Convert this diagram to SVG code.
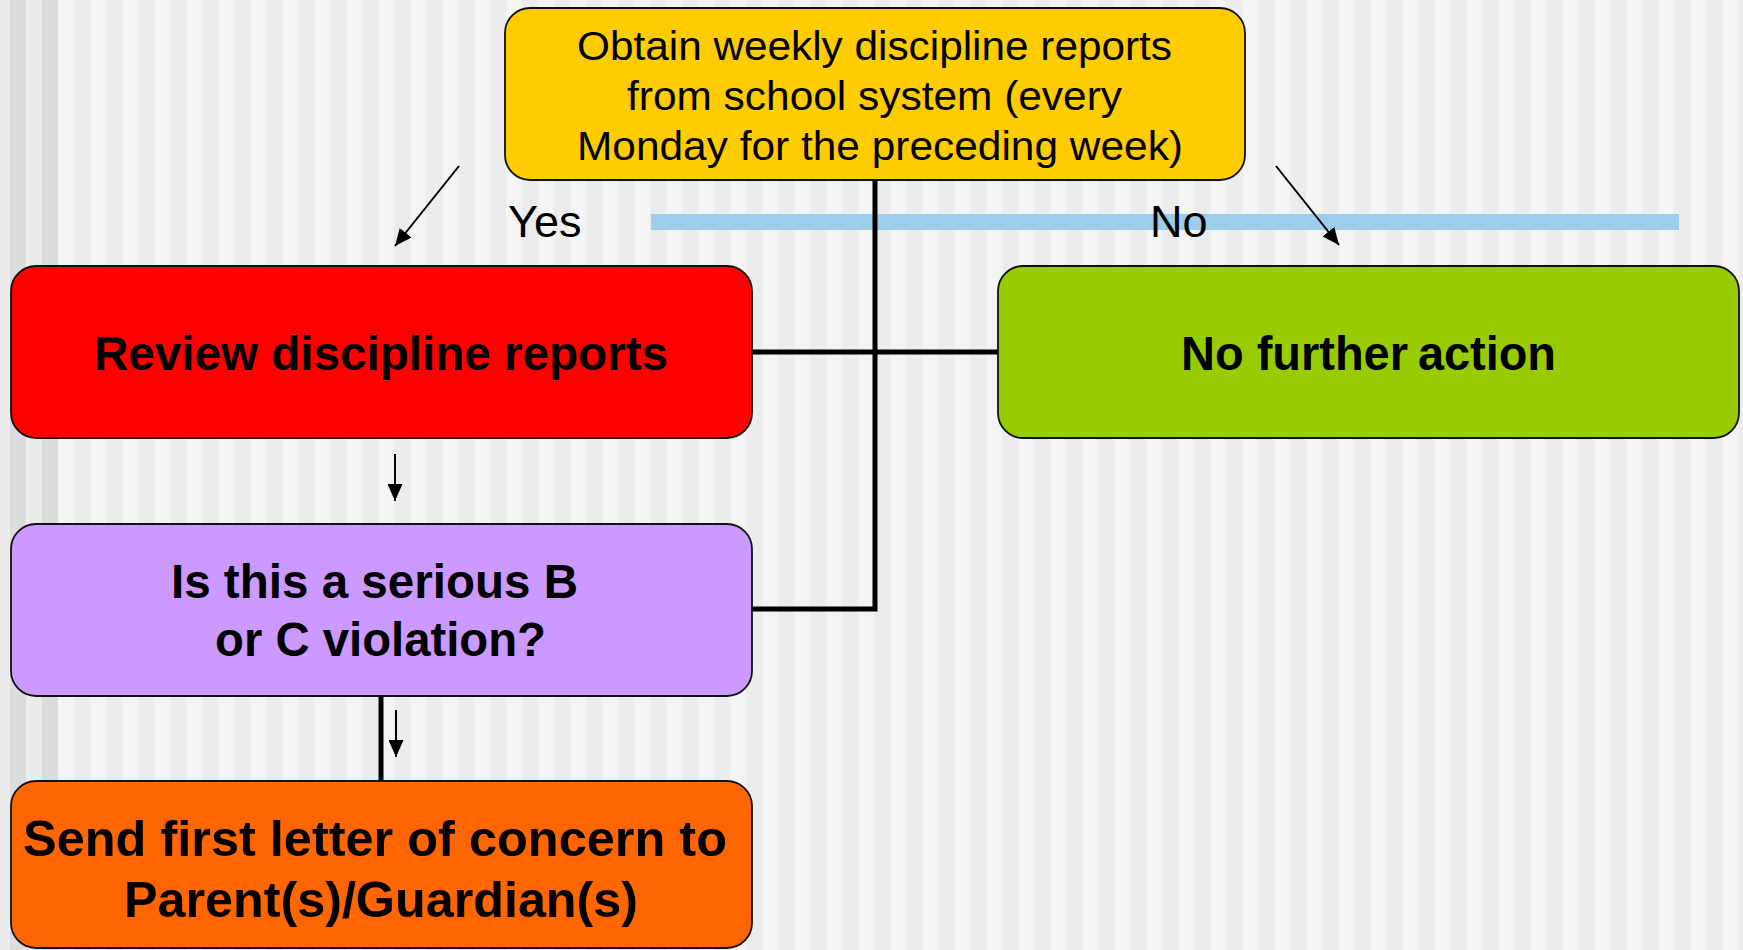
<svg xmlns="http://www.w3.org/2000/svg" width="1743" height="950" viewBox="0 0 1743 950">
<style>
.box{stroke:#111;stroke-width:1.8}
.reg{font-family:"Liberation Sans",Arial,sans-serif;font-size:41px;fill:#000}
.lbl{font-family:"Liberation Sans",Arial,sans-serif;font-size:45px;fill:#000}
.bold{font-family:"Liberation Sans",Arial,sans-serif;font-size:48px;font-weight:bold;fill:#000}
.thick{fill:none;stroke:#000;stroke-width:5}
.arrow{fill:none;stroke:#000;stroke-width:2;marker-end:url(#ah)}
</style>
<defs>
<pattern id="stripes" x="26" y="0" width="32" height="950" patternUnits="userSpaceOnUse">
<rect x="0" y="0" width="16" height="950" fill="#f4f4f4"/>
<rect x="16" y="0" width="16" height="950" fill="#ececec"/>
</pattern>
<marker id="ah" viewBox="0 0 17 15" refX="17" refY="7.5" markerWidth="17" markerHeight="15" markerUnits="userSpaceOnUse" orient="auto">
<path d="M0,0 L17,7.5 L0,15 z" fill="#000"/>
</marker>
</defs>
<g id="background">
<rect x="0" y="0" width="1743" height="950" fill="url(#stripes)"/>
<rect x="0" y="0" width="10" height="950" fill="#ebebeb"/>
<rect x="10" y="0" width="16" height="950" fill="#dcdcdc"/>
<rect x="26" y="0" width="16" height="950" fill="#ebebeb"/>
<rect x="42" y="0" width="16" height="950" fill="#dcdcdc"/>
<rect x="651" y="214" width="1028" height="16" fill="#9ccdea"/>
</g>
<g id="connectors">
<path class="thick" d="M875,180 V609 H752"/>
<path class="thick" d="M752,352 H998"/>
<path class="thick" d="M381,696 V781"/>
<line class="arrow" x1="459" y1="166" x2="395" y2="246"/>
<line class="arrow" x1="1276" y1="166" x2="1339" y2="245"/>
<line class="arrow" x1="395" y1="454" x2="395" y2="501"/>
<line class="arrow" x1="396" y1="710" x2="396" y2="757"/>
</g>
<g id="labels">
<text class="lbl" x="508" y="237">Yes</text>
<text class="lbl" x="1150" y="237">No</text>
</g>
<g id="node-obtain">
<rect class="box" x="505" y="8" width="740" height="172" rx="25" fill="#ffcc00"/>
<text class="reg" x="577" y="60" textLength="595" lengthAdjust="spacingAndGlyphs">Obtain weekly discipline reports</text>
<text class="reg" x="627" y="110" textLength="495" lengthAdjust="spacingAndGlyphs">from school system (every</text>
<text class="reg" x="577" y="160" textLength="606" lengthAdjust="spacingAndGlyphs">Monday for the preceding week)</text>
</g>
<g id="node-review">
<rect class="box" x="11" y="266" width="741" height="172" rx="25" fill="#ff0000"/>
<text class="bold" x="94" y="370" textLength="574" lengthAdjust="spacingAndGlyphs">Review discipline reports</text>
</g>
<g id="node-nofurther">
<rect class="box" x="998" y="266" width="741" height="172" rx="25" fill="#99cc00"/>
<text class="bold" x="1181" y="370"><tspan textLength="227" lengthAdjust="spacingAndGlyphs">No further</tspan><tspan x="1418" textLength="138" lengthAdjust="spacingAndGlyphs">action</tspan></text>
</g>
<g id="node-serious">
<rect class="box" x="11" y="524" width="741" height="172" rx="25" fill="#cc99ff"/>
<text class="bold" x="171" y="598" textLength="407" lengthAdjust="spacingAndGlyphs">Is this a serious B</text>
<text class="bold" x="215" y="656" textLength="331" lengthAdjust="spacingAndGlyphs">or C violation?</text>
</g>
<g id="node-letter">
<rect class="box" x="11" y="781" width="741" height="167" rx="25" fill="#ff6600"/>
<text class="bold" x="23" y="856" style="font-size:50px" textLength="704" lengthAdjust="spacingAndGlyphs">Send first letter of concern to</text>
<text class="bold" x="124" y="917" style="font-size:50px" textLength="514" lengthAdjust="spacingAndGlyphs">Parent(s)/Guardian(s)</text>
</g>
</svg>
